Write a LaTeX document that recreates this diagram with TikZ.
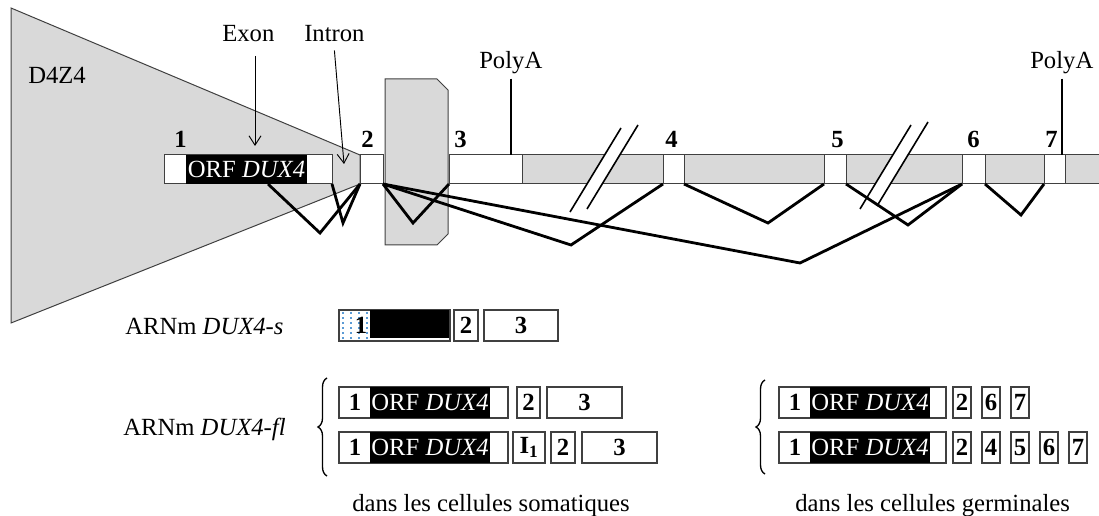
\documentclass[tikz,border=0pt]{standalone}
\usepackage{fontspec}
\setmainfont{Liberation Serif}
\usetikzlibrary{arrows.meta,decorations.pathreplacing}
\definecolor{boxgray}{RGB}{217,217,217}
\definecolor{edgegray}{RGB}{64,64,64}
\definecolor{dotblue}{RGB}{91,155,213}

\begin{document}
\begin{tikzpicture}[x=0.75pt, y=-0.75pt,
  exon/.style={draw=edgegray, fill=white, line width=0.75pt, inner sep=0pt, outer sep=0pt, anchor=north west, minimum height=21.75pt, minimum width=#1*0.75pt},
  orf/.style={fill=black, text=white, inner sep=0pt, outer sep=0pt, anchor=north west, minimum height=21.75pt, minimum width=#1*0.75pt},
  rbox/.style={draw=edgegray, fill=white, line width=0.9pt, inner sep=0pt, outer sep=0pt, anchor=north west, minimum height=23.25pt, minimum width=#1*0.75pt, font=\bfseries},
  blk/.style={orf=#1, minimum height=23.25pt},
  num/.style={font=\bfseries, inner sep=0pt, anchor=base west},
  digit/.style={font=\bfseries, inner sep=0pt},
  lbl/.style={inner sep=0pt, anchor=base west},
  shade/.style={draw=edgegray, fill=boxgray, line width=0.75pt},
  splice/.style={line width=2.1pt},
  cut/.style={line width=1.2pt},
  pointer/.style={line width=0.7pt, -{Straight Barb[length=7pt, width=9pt]}},
  polyline/.style={line width=1.6pt},
  brace/.style={decorate, decoration={brace, amplitude=6.75pt}, line width=1pt}]
\fontsize{18.5pt}{22pt}\selectfont

\useasboundingbox (0,0) rectangle (1099,516);

\draw[shade] (11,8) -- (360,155) -- (360,184) -- (11,323) -- cycle;
\draw[shade] (449,155) rectangle (1101,184);

\foreach \bx/\by in {570/212, 860/209} {
  \fill[white] (\bx,\by) -- ++(51,-84) -- ++(17,-3) -- ++(-51,84) -- cycle;
  \draw[cut] (\bx,\by) -- ++(51,-84);
  \draw[cut] (\bx+17,\by-3) -- ++(51,-84);
}

\node[exon=168] (e1) at (164,155) {};
\node[orf=121] (orf) at (186,155) {ORF \textit{DUX4}};
\node[exon=23] (e2) at (360,155) {};
\node[exon=73] (e3) at (449,155) {};
\node[exon=21] (e4) at (663,155) {};
\node[exon=22] (e5) at (824,155) {};
\node[exon=23] (e6) at (962,155) {};
\node[exon=21] (e7) at (1044,155) {};

\draw[shade] (385,79) -- (437,79) -- (448,90) -- (448,234) -- (437,245) -- (385,245) -- cycle;

\node[num] (n1) at (174,148) {1};
\node[num] (n2) at (361,148) {2};
\node[num] (n3) at (454,148) {3};
\node[num] (n4) at (665,148) {4};
\node[num] (n5) at (831,148) {5};
\node[num] (n6) at (967,148) {6};
\node[num] (n7) at (1045,148) {7};

\coordinate (d1) at (268,184);
\coordinate (v1) at (320,233);
\coordinate (v2) at (343,223);
\coordinate (v3) at (413,223);
\coordinate (v4) at (571,245);
\coordinate (v5) at (800,263);
\coordinate (v6) at (768,223);
\coordinate (v7) at (908,225);
\coordinate (v8) at (1021,215);

\draw[splice] (d1) -- (v1) -- (e2.south west);
\draw[splice] (e1.south east) -- (v2) -- (e2.south west);
\draw[splice] (e2.south east) -- (v3) -- (e3.south west);
\draw[splice] (e2.south east) -- (v4) -- (e4.south west);
\draw[splice] (e2.south east) -- (v5) -- (e6.south west);
\draw[splice] (e4.south east) -- (v6) -- (e5.south west);
\draw[splice] (e5.south east) -- (v7) -- (e6.south west);
\draw[splice] (e6.south east) -- (v8) -- (e7.south west);

\node[lbl] (d4z4) at (28,84) {D4Z4};
\node[lbl] (lexon) at (222,42) {Exon};
\node[lbl] (lintron) at (304,42) {Intron};
\coordinate (pexon) at (255,146);
\coordinate (pintron) at (344,164);
\draw[pointer] ([yshift=-10pt]lexon.south -| pexon) -- (pexon);
\draw[pointer] ([yshift=-6pt]lintron.south) -- (pintron);

\node[lbl] (pa1) at (479,69) {PolyA};
\node[lbl] (pa2) at (1030,69) {PolyA};
\draw[polyline] ([yshift=-3pt]pa1.south) -- (pa1.south |- e3.north);
\draw[polyline] ([yshift=-3pt]pa2.south) -- (pa2.south |- e7.north);

\node[lbl] (arns) at (125,335) {ARNm \textit{DUX4-s}};
\node[lbl] (arnfl) at (123,435) {ARNm \textit{DUX4-fl}};
\node[lbl] (soma) at (352,511) {dans les cellules somatiques};
\node[lbl] (germ) at (795,511) {dans les cellules germinales};

\node[rbox=111] (s1) at (339,310) {};
\node[blk=79, minimum height=21pt] (s1o) at (370,310) {};
\foreach \dx in {343,351,359,367}
  \draw[dotblue, line width=0.8pt, dash pattern=on 1.2pt off 2.6pt] (\dx,312) -- (\dx,339);
\node[digit] (s1n) at (361,325) {1};
\node[rbox=24] (s2) at (454,310) {2};
\node[rbox=74] (s3) at (484,310) {3};

\draw[brace] (327,476) -- (327,378);
\node[rbox=169] (f1) at (339,387) {};
\node[blk=120] (f1o) at (370,387) {ORF \textit{DUX4}};
\node[digit] (f1n) at (355,402.5) {1};
\node[rbox=23] (f1b) at (517,387) {2};
\node[rbox=75] (f1c) at (547,387) {3};

\node[rbox=169] (f2) at (339,432) {};
\node[blk=120] (f2o) at (370,432) {ORF \textit{DUX4}};
\node[digit] (f2n) at (355,447.5) {1};
\node[rbox=32] (f2i) at (513,432) {I\textsubscript{1}};
\node[rbox=24] (f2b) at (551,432) {2};
\node[rbox=75] (f2c) at (582,432) {3};

\draw[brace] (765,474) -- (765,380);
\node[rbox=167] (g1) at (779,387) {};
\node[blk=120] (g1o) at (810,387) {ORF \textit{DUX4}};
\node[digit] (g1n) at (795,402.5) {1};
\foreach \n/\gx in {2/953, 6/982, 7/1011}
  \node[rbox=18] (g1-\n) at (\gx,387) {\n};

\node[rbox=167] (g2) at (779,432) {};
\node[blk=120] (g2o) at (810,432) {ORF \textit{DUX4}};
\node[digit] (g2n) at (795,447.5) {1};
\foreach \n/\gx in {2/953, 4/982, 5/1011, 6/1040, 7/1069}
  \node[rbox=18] (g2-\n) at (\gx,432) {\n};

\end{tikzpicture}
\end{document}
